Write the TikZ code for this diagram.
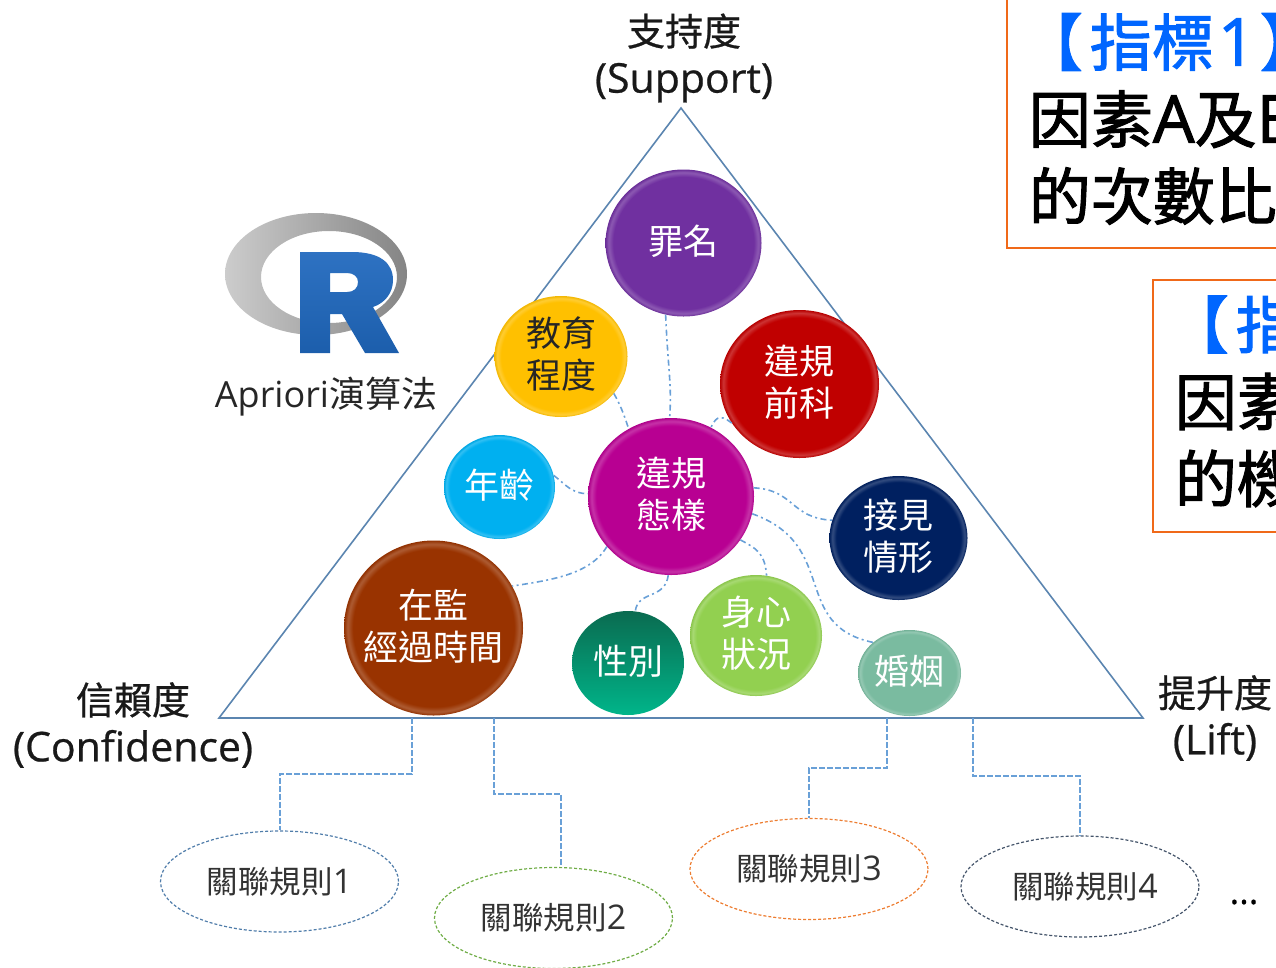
\documentclass[tikz,border=0pt]{standalone}
\usepackage{fontspec}
\usepackage{tikz}
\usetikzlibrary{positioning,shapes.geometric}
\newfontfamily\cjk{Noto Sans CJK TC}
\newfontfamily\cjkm[FakeBold=0.7]{Noto Sans CJK TC}
\newfontfamily\cjkh[FakeBold=1.6]{Noto Sans CJK TC}
\newfontfamily\latn{Open Sans}
\newfontfamily\latnm[FakeBold=0.6]{Open Sans}
\newfontfamily\latnh[FakeBold=1.6]{Open Sans}
\definecolor{trianglecol}{RGB}{91,133,176}
\definecolor{linkcol}{RGB}{105,160,215}
\definecolor{indexcol}{RGB}{240,105,25}
\definecolor{titlecol}{RGB}{0,102,255}
\definecolor{crimecol}{RGB}{112,48,160}
\definecolor{edupcol}{RGB}{255,192,0}
\definecolor{priorcol}{RGB}{192,0,0}
\definecolor{agecol}{RGB}{0,176,240}
\definecolor{violcol}{RGB}{184,0,146}
\definecolor{visitcol}{RGB}{0,32,96}
\definecolor{timecol}{RGB}{153,51,0}
\definecolor{sexcol}{RGB}{0,135,105}
\definecolor{healthcol}{RGB}{146,208,80}
\definecolor{marrycol}{RGB}{122,187,160}
\definecolor{ruleone}{RGB}{80,125,170}
\definecolor{ruletwo}{RGB}{112,173,71}
\definecolor{rulethree}{RGB}{237,125,49}
\definecolor{rulefour}{RGB}{68,84,106}
\colorlet{bubblecol}{black}
\pgfdeclareradialshading[bubblecol]{bubblerim}{\pgfpointorigin}{%
color(0bp)=(bubblecol); color(22.5bp)=(bubblecol); color(24bp)=(bubblecol!80!white); color(25bp)=(bubblecol!95!black); color(50bp)=(bubblecol!95!black)}
\newcommand{\lowstrut}[1]{\rule[-#1pt]{0pt}{1pt}}
\tikzset{
bubble/.style={ellipse,inner sep=-20pt,align=center,text=white,/utils/exec={\colorlet{bubblecol}{#1}},shading=bubblerim,font=\cjk\fontsize{35}{42}\selectfont},
rule/.style={ellipse,draw=#1,densely dashed,line width=1.2pt,minimum width=238,minimum height=101,inner sep=0pt,text=black!80,font=\cjk\fontsize{31.5}{36}\selectfont},
linkline/.style={linkcol,line width=1.6pt,dash pattern={on 6pt off 3.5pt on 2pt off 3.5pt}},
stepline/.style={linkcol,line width=2pt,dash pattern={on 6pt off 2pt}},
label/.style={align=center,inner sep=0pt,text=black!90,font=\cjkm\fontsize{38}{47}\selectfont},
indexbox/.style={draw=indexcol,line width=1.8pt,anchor=north west,align=left,inner ysep=0pt,inner xsep=22pt,font=\cjkh\fontsize{62}{77}\selectfont},
}
\begin{document}
\begin{tikzpicture}[x=1pt,y=1pt,yscale=-1,xscale=1]
\useasboundingbox (0,0) rectangle (1276,967);
\clip (0,0) rectangle (1276,967);
%Shape: Triangle
\coordinate (apex) at (681,108);
\coordinate (baseleft) at (219,718);
\coordinate (baseright) at (1143,718);
\draw [trianglecol,line width=1.6pt] (apex) -- (baseleft) -- (baseright) -- cycle ;
%Shape: R logo
\shade [even odd rule,left color=black!20,right color=black!48] (316,274) ellipse [x radius=91,y radius=61] (329,277) ellipse [x radius=68,y radius=46];
\shade [even odd rule,top color={rgb,255:red,46;green,114;blue,194},bottom color={rgb,255:red,28;green,94;blue,172}] (300,252) -- (352,252) .. controls (380,252) and (393,263) .. (393,280) .. controls (393,293) and (385,303) .. (373,307) -- (399,353) -- (365,353) -- (342,314) -- (330,314) -- (330,353) -- (300,353) -- cycle (330,273) -- (347,273) .. controls (354,273) and (358,277) .. (358,282) .. controls (358,288) and (354,292) .. (347,292) -- (330,292) -- cycle ;

% Bubbles
\node (crime) at (683.5,243) [bubble=crimecol,minimum width=156,minimum height=147] {罪名\lowstrut{7}};
\node (edu) at (561,356.5) [bubble=edupcol,minimum width=133,minimum height=121,text=black!85] {教育\\程度\lowstrut{7}};
\node (prior) at (799.5,384) [bubble=priorcol,minimum width=159,minimum height=148] {違規\\前科\lowstrut{7}};
\node (age) at (499.5,487) [bubble=agecol,minimum width=111,minimum height=104] {年齡\lowstrut{7}};
\node (viol) at (671,496.5) [bubble=violcol,minimum width=166,minimum height=157] {違規\\態樣\lowstrut{7}};
\node (visit) at (898.5,538) [bubble=visitcol,minimum width=138,minimum height=124] {接見\\情形\lowstrut{7}};
\node (time) at (433.5,628) [bubble=timecol,minimum width=179,minimum height=175] {在監\\經過時間\lowstrut{7}};
\node (sex) at (628,663) [bubble=sexcol,top color={rgb,255:red,10;green,107;blue,80},bottom color={rgb,255:red,0;green,181;blue,138},minimum width=112,minimum height=104] {性別\lowstrut{7}};
\node (health) at (756,635.5) [bubble=healthcol,minimum width=132,minimum height=121] {身心\\狀況\lowstrut{7}};
\node (marry) at (909.5,673) [bubble=marrycol,minimum width=103,minimum height=86] {婚姻\lowstrut{7}};

%Curved Lines
\draw [linkline] (crime.-104) .. controls (668,370) and (672,385) .. (viol.91);
\draw [linkline] (edu.-35) .. controls (622,408) and (625,418) .. (viol.122);
\draw [linkline] (prior.210) .. controls (718,412) and (715,420) .. (viol.60);
\draw [linkline] (age.12) .. controls (565,484) and (572,494) .. (viol.178);
\draw [linkline] (viol.6) .. controls (795,490) and (790,518) .. (visit.165);
\draw [linkline] (viol.-12) .. controls (840,545) and (790,625) .. (marry.140);
\draw [linkline] (viol.-32) .. controls (755,548) and (765,552) .. (health.80);
\draw [linkline] (viol.-92) .. controls (665,600) and (638,590) .. (sex.82);
\draw [linkline] (viol.-142) .. controls (590,575) and (550,580) .. (time.28);

% Rules
\node (ruleA) at (279.5,881.5) [rule=ruleone] {關聯規則{\latn\fontsize{34}{36}\selectfont 1}};
\node (ruleB) at (553.5,918) [rule=ruletwo] {關聯規則{\latn\fontsize{34}{36}\selectfont 2}};
\node (ruleC) at (809,869) [rule=rulethree] {關聯規則{\latn\fontsize{34}{36}\selectfont 3}};
\node (ruleD) at (1080,886.5) [rule=rulefour] {\hspace*{10pt}關聯規則{\latn\fontsize{34}{36}\selectfont 4}};
\node (more) at (1244,902) [font=\latnm\fontsize{36}{38}\selectfont,inner sep=0pt] {...};

%Straight Lines
\coordinate (footA) at (412,718);
\coordinate (footB) at (494,718);
\coordinate (footC) at (887,718);
\coordinate (footD) at (973,718);
\draw [stepline] (footA) -- ++(0,56) -| (ruleA.north);
\draw [stepline] (footB) -- ++(0,76) -| (ruleB.82);
\draw [stepline] (footC) -- ++(0,50) -| (ruleC.north);
\draw [stepline] (footD) -- ++(0,58) -| (ruleD.north);

% Text Node
\node (support) at (684,58) [label] {支持度\\{\latnm\fontsize{41}{47}\selectfont(Support)}};
\node (confid) at (133,725) [label] {信賴度\\{\latnm\fontsize{41}{47}\selectfont(Confidence)}};
\node (lift) at (1215,718) [label] {提升度\\{\latnm\fontsize{41}{47}\selectfont(Lift)}};
\node (apriori) at (326,397) [inner sep=0pt,text=black!85,font=\fontsize{36}{40}\selectfont] {{\latn Apriori}{\cjk 演算法}};
% Index boxes
\node (indexA) at (1006,-2) [indexbox,minimum width=300,minimum height=249] {{\color{titlecol}\hspace*{-8pt}【\kern7pt 指標\kern4pt{\latnh\fontsize{66}{77}\selectfont 1}\kern4pt】}\\因素{\latnh\fontsize{66}{77}\selectfont A}及{\latnh\fontsize{66}{77}\selectfont B}\\的次數比\lowstrut{14}};
\node (indexB) at (1152,279) [indexbox,minimum width=160,minimum height=252] {{\color{titlecol}\hspace*{-8pt}【\kern7pt 指}\\因素\\的機\lowstrut{14}};
\end{tikzpicture}
\end{document}
